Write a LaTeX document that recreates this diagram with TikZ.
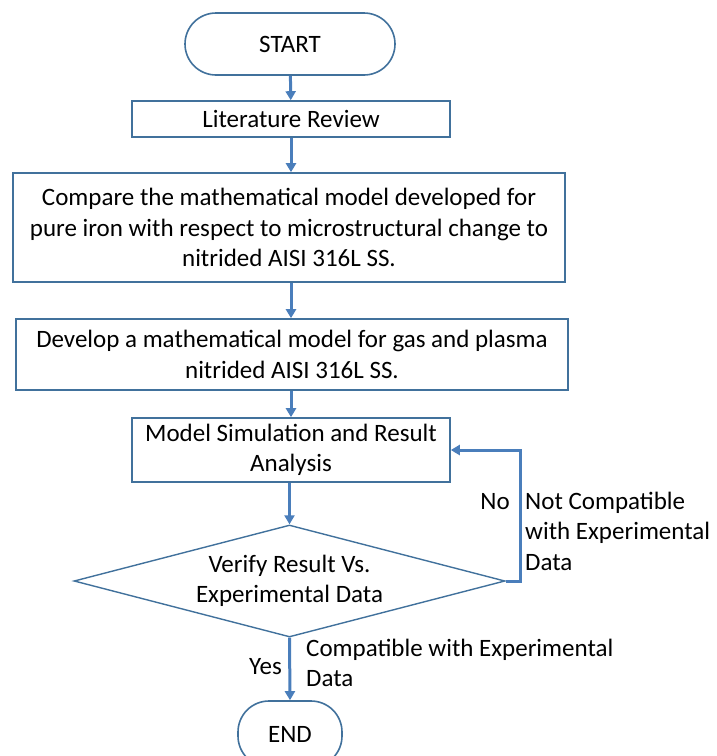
\documentclass[tikz,border=0pt]{standalone}
\usepackage{fontspec}
\setmainfont{Carlito}
\usetikzlibrary{shapes.geometric,arrows.meta}

\definecolor{edgeblue}{HTML}{41719C}
\definecolor{flowblue}{HTML}{4A7EBB}

\tikzset{
  box/.style={draw=edgeblue, line width=1.6pt, rectangle, align=center, inner sep=0pt},
  terminal/.style={box, rounded corners=31pt},
  decision/.style={draw=edgeblue, line width=1.4pt, diamond, align=center, inner sep=0pt},
  flow/.style={draw=flowblue, line width=3pt, -{Triangle[length=9pt,width=10pt]}},
  note/.style={align=left, inner sep=0pt}
}

\begin{document}
\begin{tikzpicture}[x=1pt, y=-1pt, font=\fontsize{25}{30.5}\selectfont]
  \useasboundingbox (0,0) rectangle (716,756);

  % terminals and process boxes
  \node[terminal, minimum width=210pt, minimum height=62pt] (start) at (290,44) {START};
  \node[box, minimum width=318pt, minimum height=36pt] (review) at (291,119) {Literature Review};
  \node[box, minimum width=552pt, minimum height=109pt] (compare) at (289,227.5)
    {Compare the mathematical model developed for\\pure iron with respect to microstructural change to\\nitrided AISI 316L SS.};
  \node[box, minimum width=552pt, minimum height=71pt] (develop) at (292,354.5)
    {Develop a mathematical model for gas and plasma\\nitrided AISI 316L SS.};
  \node[box, minimum width=318pt, minimum height=64pt] (sim) at (291,450)
    {Model Simulation and Result\\Analysis};

  %decision
  \node[decision, minimum width=431pt, minimum height=112pt, aspect=3.85] (verify) at (289.5,581)
    {Verify Result Vs.\\Experimental Data};

  \begin{scope}
    \clip (0,0) rectangle (716,756);
    \node[terminal, minimum width=104pt, minimum height=66pt] (stop) at (290,734) {END};
  \end{scope}

  % connectors
  \draw[flow] (start) -- (review);
  \draw[flow] (review.south) -- (review.south |- compare.north);
  \draw[flow] (compare.south -| review.south) -- (review.south |- develop.north);
  \draw[flow] (develop.south -| review.south) -- (sim);
  \draw[flow] (sim.south -| verify.north) -- (verify.north);
  \draw[flow] (verify.south) -- (stop.north);
  \draw[flow] (verify.east) -- ++(15,0) |- (sim.east);

  % labels (base = baseline of the last line)
  \node[note, anchor=base east] (no) at (510,509) {No};
  \node[note, anchor=base west] (notcomp) at (525,570) {Not Compatible\\with Experimental\\Data};
  \node[note, anchor=base east] (yes) at (282,674) {Yes};
  \node[note, anchor=base west] (comp) at (306,686.5) {Compatible with Experimental\\Data};
\end{tikzpicture}
\end{document}
